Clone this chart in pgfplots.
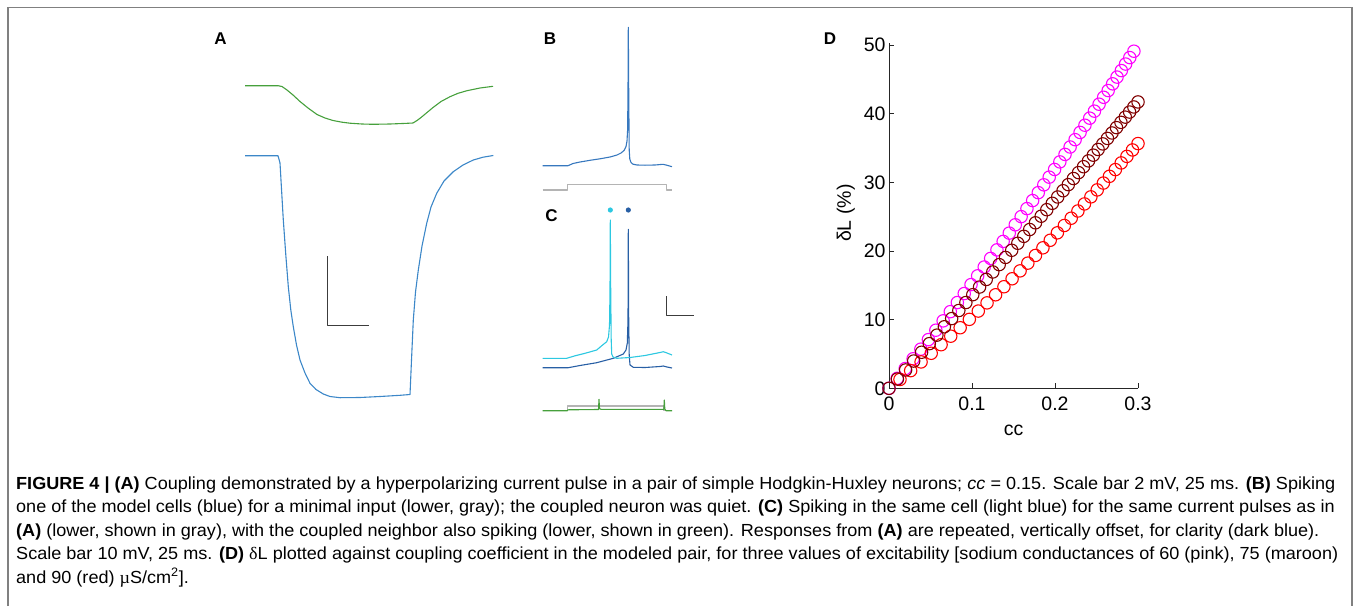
\documentclass[border=0pt]{standalone}
\usepackage{pgfplots}
\pgfplotsset{compat=1.18}
\usepackage{graphicx}
\usepackage{fontspec}
\setmainfont{Liberation Sans}
\newfontfamily\serifgreek{Liberation Serif}

\definecolor{agreen}{RGB}{70,160,60}
\definecolor{ablue}{RGB}{60,135,200}
\definecolor{bblue}{RGB}{55,120,190}
\definecolor{ccyan}{RGB}{45,200,225}
\definecolor{cdark}{RGB}{40,95,165}
\definecolor{pgray}{RGB}{180,180,180}
\definecolor{sbar}{RGB}{60,60,60}
\definecolor{dpink}{RGB}{255,0,255}
\definecolor{dmaroon}{RGB}{128,0,0}
\definecolor{dred}{RGB}{255,0,0}

\newcommand\capfont{\fontsize{17.5}{20}\selectfont}
\newcommand\lineone{\textbf{FIGURE 4 | (A)} Coupling demonstrated by a hyperpolarizing current pulse in a pair of simple Hodgkin-Huxley neurons; \textit{cc} = 0.15. Scale bar 2 mV, 25 ms. \textbf{(B)} Spiking}
\newlength\capw
\newcommand\capline[1]{\scalebox{\capr}[1]{\capfont #1}}

\begin{document}%
\settowidth\capw{\capfont\lineone}%
\pgfmathsetmacro\capr{1319/\capw}%
\begin{tikzpicture}
\path[use as bounding box] (0pt,0pt) rectangle (1354pt,606pt);

% traces of panels A, B and C, in pixel units of the figure
\begin{axis}[
  at={(0pt,0pt)}, anchor=south west,
  scale only axis, width=1354pt, height=606pt,
  xmin=0, xmax=1354, ymin=0, ymax=606, y dir=reverse,
  hide axis, clip=false,
  every axis plot/.append style={no marks, line width=1.1pt, line join=round},
]
% A, green (coupled cell)
\addplot[agreen] coordinates {
 (245,85.7) (278,85.7) (282,86.5) (287,90) (293,95) (300,101.5) (308,108)
 (317,114.5) (325,118) (333,120.5) (342,122.2) (350,123.2) (362,124)
 (373,124.3) (390,124) (405,123.4) (413,123) (417,120.5) (421,117.5)
 (427,112.5) (433,107.5) (441,101.5) (450,96.7) (458,93.3) (467,90.7)
 (480,88) (493,86.3)};
% A, blue (injected cell)
\addplot[ablue] coordinates {
 (245,155.7) (278,155.7) (280,163) (283.3,220) (285.8,255) (288.3,286.7)
 (290.8,310) (293.3,326.7) (296.5,345) (300,360) (305,373) (310,383.3)
 (316,389.5) (323.3,394) (330,396.5) (340,397.7) (360,397.5) (380,396.5)
 (400,395.3) (410,394.5) (411.5,360) (413.3,320) (415.5,292) (418.3,270)
 (422,246) (426.7,223.3) (431,207) (436.7,193.3) (444,181) (453.3,171.7)
 (463,165) (473.3,160) (483,157.2) (493.3,155.5)};
% A, scale bar
\addplot[sbar, line width=1pt] coordinates {(327,256) (327,325.5) (369,325.5)};

% B, spike
\addplot[bblue] coordinates {
 (542.7,165.7) (568,165.7) (573,163.5) (580,162) (590,160.3) (600,158.8)
 (610,157) (617,155) (621,153) (624,150.5) (626,146.5) (627,141)
 (627.6,130) (628,90) (628.3,27.3) (628.7,90) (629.2,150) (629.8,159)
 (631,162.5) (633,164.2) (637,165) (645,165.2) (655,165) (663,164.3)
 (666,165) (672,166.7)};
% B, current pulse
\addplot[pgray] coordinates {
 (542.7,190) (567.3,190) (567.3,184.3) (666.7,184.3) (666.7,190) (672,190)};

% C, current pulse
\addplot[pgray] coordinates {
 (542.7,410.7) (567.3,410.7) (567.3,406) (663.3,406) (663.3,410.7) (672,410.7)};
% C, green neighbour
\addplot[agreen] coordinates {
 (542.7,410.7) (567.3,410.7) (568,409.8) (598.5,409.5) (599,399.3)
 (599.5,408.5) (601,409.3) (663.8,409.3) (664.3,400) (664.8,409)
 (666,410.7) (672,410.7)};
% C, dark blue (repeated, offset)
\addplot[cdark] coordinates {
 (542.7,367.7) (568.3,367.7) (580,365.5) (596.7,362.7) (613.3,358.3)
 (623.3,354) (626,350) (627.3,343) (628,320) (628.3,229.3) (628.7,320)
 (629.2,355) (630,365) (633.3,367.3) (645,367.5) (660,366.5) (663.3,366)
 (667,367) (672,368)};
% C, light blue
\addplot[ccyan] coordinates {
 (542.7,358.3) (566.7,358.3) (575,355.8) (585,353.3) (596.7,350)
 (602,345.5) (606.7,341.7) (608.5,337) (609.5,325) (610,290) (610.3,220)
 (610.7,290) (611.2,340) (611.7,354) (613,357) (616.7,358.3) (630,357.5)
 (645,355.5) (660,352.5) (663.3,351.7) (667,353) (672,355)};
% C, spike markers
\addplot[only marks, mark=*, mark size=2pt, color=ccyan] coordinates {(610.3,210)};
\addplot[only marks, mark=*, mark size=2pt, color=cdark] coordinates {(628.3,210)};
% C, scale bar
\addplot[sbar, line width=1pt] coordinates {(666,296) (666,315.5) (694,315.5)};
\end{axis}

% panel D
\begin{axis}[
  at={(889pt,217.7pt)}, anchor=south west,
  scale only axis, width=249pt, height=345.4pt,
  xmin=0, xmax=0.3, ymin=0, ymax=50.3,
  axis lines=left,
  axis line style={-, draw=black!85, line width=0.9pt},
  tick align=inside, major tick length=5pt,
  tick style={draw=black!85, line width=0.9pt},
  xtick={0,0.1,0.2,0.3}, ytick={0,10,20,30,40,50},
  /pgf/number format/assume math mode=true,
  /pgf/number format/fixed,
  tick label style={font=\fontsize{19.5}{20}\selectfont},
  xticklabel style={yshift=-5pt},
  label style={font=\fontsize{19.5}{20}\selectfont},
  xlabel={cc}, ylabel={δL (\%)},
  xlabel style={at={(axis description cs:0.5,-0.121)}, anchor=center},
  ylabel style={at={(axis description cs:-0.173,0.507)}, anchor=center},
  clip=false,
  every axis plot/.append style={only marks, mark=o, mark size=6.2pt,
    mark options={line width=1.1pt}},
]
% gNa = 60 (pink)
\addplot[dpink] coordinates {
 (0,0) (0.00987,1.45) (0.01954,2.88) (0.02903,4.30) (0.03834,5.70)
 (0.04747,7.09) (0.05643,8.46) (0.06522,9.82) (0.07385,11.16)
 (0.08232,12.49) (0.09064,13.80) (0.09881,15.10) (0.10682,16.38)
 (0.11471,17.66) (0.12245,18.91) (0.13006,20.16) (0.13754,21.39)
 (0.14489,22.60) (0.15212,23.81) (0.15922,25.00) (0.16621,26.17)
 (0.17308,27.34) (0.17984,28.49) (0.18649,29.63) (0.19303,30.75)
 (0.19947,31.87) (0.20581,32.97) (0.21205,34.06) (0.21819,35.14)
 (0.22423,36.21) (0.23018,37.26) (0.23605,38.31) (0.24182,39.34)
 (0.24750,40.36) (0.25311,41.37) (0.25863,42.38) (0.26406,43.36)
 (0.26942,44.34) (0.27471,45.32) (0.27991,46.27) (0.28504,47.22)
 (0.29010,48.16) (0.29508,49.09)};
% gNa = 90 (red)
\addplot[dred] coordinates {
 (0.01322,1.29) (0.02609,2.57) (0.03863,3.84) (0.05085,5.10)
 (0.06276,6.35) (0.07438,7.59) (0.08572,8.82) (0.09678,10.04)
 (0.10757,11.25) (0.11811,12.44) (0.12841,13.62) (0.13846,14.79)
 (0.14829,15.95) (0.15790,17.10) (0.16729,18.23) (0.17647,19.35)
 (0.18546,20.46) (0.19425,21.56) (0.20285,22.64) (0.21127,23.71)
 (0.21951,24.77) (0.22759,25.82) (0.23550,26.85) (0.24324,27.88)
 (0.25084,28.89) (0.25828,29.89) (0.26558,30.87) (0.27273,31.85)
 (0.27975,32.82) (0.28663,33.77) (0.29338,34.71) (0.30000,35.64)};
% gNa = 75 (maroon)
\addplot[dmaroon] coordinates {
 (0,0) (0.01010,1.35) (0.02000,2.67) (0.02971,3.97) (0.03922,5.25)
 (0.04855,6.50) (0.05770,7.74) (0.06667,8.96) (0.07548,10.15)
 (0.08412,11.33) (0.09260,12.49) (0.10093,13.63) (0.10910,14.75)
 (0.11713,15.85) (0.12501,16.94) (0.13275,18.01) (0.14036,19.06)
 (0.14784,20.10) (0.15518,21.12) (0.16241,22.13) (0.16951,23.12)
 (0.17648,24.10) (0.18335,25.06) (0.19010,26.01) (0.19673,26.94)
 (0.20326,27.86) (0.20969,28.77) (0.21601,29.66) (0.22224,30.55)
 (0.22836,31.41) (0.23439,32.27) (0.24033,33.12) (0.24617,33.95)
 (0.25193,34.78) (0.25759,35.59) (0.26318,36.39) (0.26867,37.18)
 (0.27409,37.96) (0.27943,38.73) (0.28469,39.49) (0.28987,40.23)
 (0.29498,40.97) (0.30002,41.70)};
\end{axis}

% panel letters
\begin{scope}[every node/.style={inner sep=0pt, font=\fontsize{17}{18}\selectfont\bfseries}]
\node at (220.5pt,567.5pt) {A};
\node at (550pt,567.5pt) {B};
\node at (551.5pt,390.5pt) {C};
\node at (830pt,567.5pt) {D};
\end{scope}

% frame
\draw[color=black!50, line width=1.2pt] (8pt,0pt) -- (8pt,598.7pt) -- (1352pt,598.7pt) -- (1352pt,0pt);

% caption, one horizontal squeeze for all lines
\begin{scope}[every node/.style={inner sep=0pt, anchor=base west}]
\node at (16pt,117pt) {\capline{\lineone}};
\node at (16pt,93.5pt) {\capline{one of the model cells (blue) for a minimal input (lower, gray); the coupled neuron was quiet. \textbf{(C)} Spiking in the same cell (light blue) for the same current pulses as in}};
\node at (16pt,70pt) {\capline{\textbf{(A)} (lower, shown in gray), with the coupled neighbor also spiking (lower, shown in green). Responses from \textbf{(A)} are repeated, vertically offset, for clarity (dark blue).}};
\node at (16pt,46.5pt) {\capline{Scale bar 10 mV, 25 ms. \textbf{(D)} {\serifgreek δ}L plotted against coupling coefficient in the modeled pair, for three values of excitability [sodium conductances of 60 (pink), 75 (maroon)}};
\node at (16pt,23pt) {\capline{and 90 (red) {\serifgreek µ}S/cm\textsuperscript{2}].}};
\end{scope}
\end{tikzpicture}%
\end{document}
